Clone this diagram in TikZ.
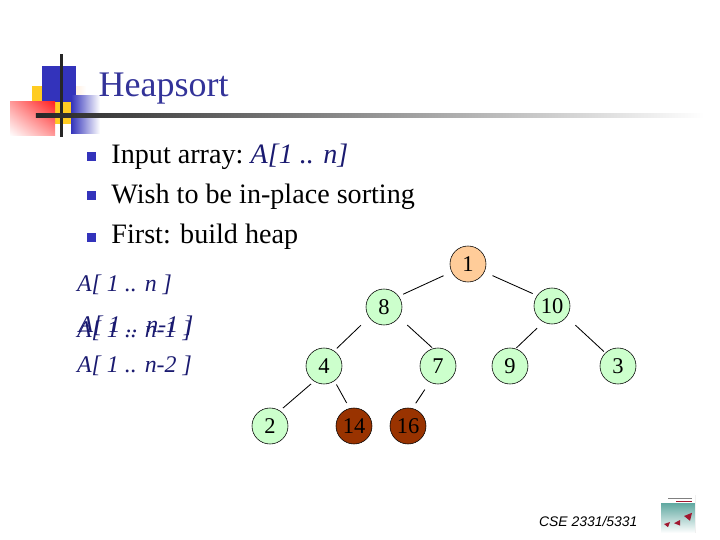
\documentclass[tikz,border=0pt]{standalone}
\usepackage{fontspec}
\setmainfont{Liberation Serif}
\setsansfont{Liberation Sans}
\usepackage{tikz}
\usetikzlibrary{shadings}
\definecolor{TitleBlue}{HTML}{333399}
\definecolor{LogoBlue}{HTML}{3333BB}
\definecolor{LogoYellow}{HTML}{FFCC22}
\definecolor{LogoRed}{HTML}{FF2222}
\definecolor{RootFill}{HTML}{FFCC99}
\definecolor{HeapFill}{HTML}{CCFFCC}
\definecolor{DoneFill}{HTML}{993300}
\definecolor{RangeBlue}{HTML}{1A1A70}
\definecolor{BookTeal}{HTML}{5FA8A0}
\definecolor{BookRed}{HTML}{A01830}
\tikzset{
  heapnode/.style={circle, draw=black, fill=#1, minimum size=0.9cm, inner sep=0pt,
    font=\fontsize{16}{16}\selectfont},
  heapnode/.default={HeapFill},
  treeedge/.style={black, line width=0.6pt},
  bulletbox/.style={fill=LogoBlue, minimum size=0.225cm, inner sep=0pt},
  bodytext/.style={anchor=base west, inner sep=0pt, font=\fontsize{20}{20}\selectfont},
  rangetext/.style={anchor=base west, inner sep=0pt, text=RangeBlue,
    font=\fontsize{17}{17}\selectfont\itshape},
}
\begin{document}
\begin{tikzpicture}
  \useasboundingbox (0,0) rectangle (18,13.5);
  % logo
  \shade[left color=orange!12, right color=white] (1.9,11.1) rectangle (2.15,11.33);
  \fill[LogoYellow] (0.8,10.95) rectangle (1.05,11.35);
  \fill[LogoBlue] (1.05,10.95) rectangle (1.9,11.85);
  \fill[LogoYellow] (1.375,10.4) rectangle (1.775,10.95);
  \shade[left color=LogoBlue, right color=white] (1.775,10.15) rectangle (2.5,11.1);
  \shade[lower left=white, upper right=LogoRed, upper left=white!55!LogoRed, lower right=white!55!LogoRed]
    (0.25,10.1) rectangle (1.375,10.95);
  \fill[black!85] (1.5,10.08) rectangle (1.57,12.15);
  \shade[left color=black!85, right color=white] (0.9,10.55) rectangle (17.6,10.65);
  \node[anchor=base west, inner sep=0pt, text=TitleBlue, font=\fontsize{25.6}{25.6}\selectfont] (title) at (2.46,11.08) {Heapsort};
  % bullets
  \node[bulletbox] (b1) at (2.29,9.59) {};
  \node[bulletbox] (b2) at (2.29,8.6) {};
  \node[bulletbox] (b3) at (2.29,7.57) {};
  \node[bodytext] (t1) at (2.78,9.42) {Input array:\hspace{-1.5pt} \textit{\textcolor{RangeBlue}{A[1 .. n]}}};
  \node[bodytext] (t2) at (2.78,8.42) {Wish to be in-place sorting};
  \node[bodytext] (t3) at (2.78,7.42) {First: build heap};
  % ranges
  \node[rangetext] (r0) at (1.92,6.2) {A[ 1 .. n ]};
  \node[rangetext] (r1) at (1.92,5.05) {A[ 1 .. n-1 ]};
  \node[rangetext] (r1b) at (1.96,5.175) {A[ 1 .. n-1 ]};
  \node[rangetext] (r2) at (1.92,4.18) {A[ 1 .. n-2 ]};
  % heap
  \node[heapnode=RootFill] (n1) at (11.7,6.9) {1};
  \node[heapnode] (n8) at (9.6,5.825) {8};
  \node[heapnode] (n10) at (13.8,5.85) {10};
  \node[heapnode] (n4) at (8.1,4.35) {4};
  \node[heapnode] (n7) at (10.95,4.35) {7};
  \node[heapnode] (n9) at (12.75,4.35) {9};
  \node[heapnode] (n3) at (15.45,4.35) {3};
  \node[heapnode] (n2) at (6.75,2.85) {2};
  \node[heapnode=DoneFill] (n14) at (8.85,2.85) {14};
  \node[heapnode=DoneFill] (n16) at (10.2,2.85) {16};
  \draw[treeedge, shorten <=0.22cm, shorten >=0.12cm] (n1.206) -- (n8.36);
  \draw[treeedge, shorten <=0.22cm, shorten >=0.12cm] (n1.-26) -- (n10.145);
  \draw[treeedge, shorten <=0.28cm, shorten >=0.09cm] (n8.215) -- (n4.56);
  \draw[treeedge, shorten <=0.28cm, shorten >=0.03cm] (n8.-35) -- (n7.106);
  \draw[treeedge, shorten <=0.22cm, shorten >=0.03cm] (n10.242) -- (n9.72);
  \draw[treeedge, shorten <=0.3cm, shorten >=0.05cm] (n10.-37) -- (n3.134);
  \draw[treeedge, shorten <=0.1cm, shorten >=0.1cm] (n4.237) -- (n2.57);
  \draw[treeedge, shorten <=0.1cm, shorten >=0.15cm] (n4.-55) -- (n14.104);
  \draw[treeedge, shorten <=0.22cm, shorten >=0.15cm] (n7.243) -- (n16.76);
  % footer
  \node[anchor=base west, inner sep=0pt, font=\sffamily\itshape\fontsize{9.9}{9.9}\selectfont] (footer) at (13.47,0.33) {CSE 2331/5331};
  \fill[black!6] (16.53,0.175) rectangle (17.4,1.125);
  \shade[top color=BookTeal, bottom color=white] (16.53,0.175) rectangle (17.37,0.93);
  \fill[white] (16.53,0.93) rectangle (17.37,1.125);
  \fill[black!50] (16.7,1.02) rectangle (17.3,1.06);
  \fill[BookRed] (16.9,0.95) rectangle (17.3,0.98);
  \fill[BookRed] (17.1,0.6) -- (17.3,0.68) -- (17.25,0.48) -- cycle;
  \fill[BookRed] (16.85,0.42) -- (17.0,0.5) -- (17.0,0.36) -- cycle;
  \fill[BookRed] (16.6,0.4) -- (16.75,0.45) -- (16.7,0.32) -- cycle;
\end{tikzpicture}
\end{document}
